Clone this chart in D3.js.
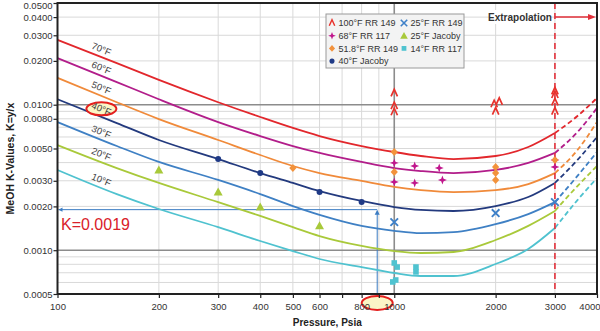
<!DOCTYPE html>
<html><head><meta charset="utf-8">
<script src="https://cdn.jsdelivr.net/npm/d3@7"></script>
<style>
body{margin:0;background:#fff}
svg{display:block}
text{font-family:"Liberation Sans Narrow","Liberation Sans",Arial,sans-serif}
</style>
</head><body><svg id="c" width="600" height="331"></svg>
<script>
// ---------- data ----------
const pressures = [100,150,200,300,400,500,600,800,1000,1200,1500,2000,2500,3000,3500,4000];
const curveLabels = ["70°F","60°F","50°F","40°F","30°F","20°F","10°F"];
const curveColors = ["#e2272c","#b21d8a","#f08a3a","#233a7e","#3f80c4","#a9c93a","#4fc2cf"];
const k70 = [0.0279,0.0193,0.0148,0.0104,0.00823,0.00692,0.00609,0.00520,0.00473,0.00444,0.00423,0.00444,0.00512,0.00639,0.00836,0.01112];
const k60 = [0.0209,0.0143,0.0109,0.0076,0.00609,0.0052,0.00466,0.00404,0.00367,0.0035,0.00339,0.00356,0.00398,0.00466,0.00649,0.00949];
const k50 = [0.0153,0.0104,0.00797,0.00572,0.00451,0.00379,0.00339,0.00299,0.00272,0.00259,0.00251,0.00259,0.00285,0.00339,0.00488,0.0076];
const k40 = [0.0109,0.00748,0.00572,0.00423,0.00339,0.0029,0.00255,0.00218,0.00198,0.00189,0.00186,0.00201,0.00232,0.0029,0.00417,0.006];
const k30 = [0.0076,0.0052,0.00404,0.00304,0.00243,0.00201,0.00175,0.00147,0.00136,0.00131,0.00133,0.00151,0.00177,0.00214,0.00324,0.00473];
const k20 = [0.00528,0.00367,0.0029,0.00214,0.00172,0.00144,0.00125,0.00107,0.000987,0.000957,0.000972,0.001175,0.00147,0.00186,0.00276,0.00379];
const k10 = [0.00356,0.00243,0.00192,0.00144,0.001157,0.000987,0.00087,0.000766,0.000697,0.000665,0.000665,0.000804,0.00102,0.00142,0.00221,0.00313];
const extrapolateFrom = 3000;

const pts100F_RR149 = [[1000,0.0120],[1000,0.0098],[1000,0.0089],[1980,0.0101],[2050,0.0105],[2000,0.0090],[3000,0.0124],[3000,0.0117],[3000,0.0104],[3000,0.0090]];
const pts68F_RR117 = [[1000,0.00398],[1000,0.00294],[1150,0.00379],[1150,0.0029],[1360,0.00367],[1390,0.00304],[3000,0.00373],[3000,0.00417]];
const pts518F_RR149 = [[500,0.00367],[1000,0.00473],[1000,0.00345],[2000,0.00373],[2000,0.00339],[2000,0.00304],[3000,0.00417]];
const pts40F_Jacoby = [[300,0.00423],[400,0.00339],[600,0.00251],[800,0.00214]];
const pts25F_RR149 = [[1000,0.00156],[2000,0.0018],[3000,0.00214]];
const pts25F_Jacoby = [[200,0.00356],[300,0.00251],[400,0.00198],[600,0.00147]];
const pts14F_RR117 = [[1000,0.000817],[1020,0.000766],[1010,0.000624],[990,0.000605],[1160,0.000766],[1160,0.000709]];

const legendNames = ["100°F RR 149","68°F RR 117","51.8°F RR 149","40°F Jacoby","25°F RR 149","25°F Jacoby","14°F RR 117"];

const xTicks = [100,200,300,400,500,600,700,800,900,1000,2000,3000,4000];
const xTickLabels = [100,200,300,400,500,600,800,1000,2000,3000,4000];
const xGridMinor = [200,300,400,500,600,700,800,900,2000,3000];
const xGridMajor = [1000];
const yTicks = [0.0005,0.001,0.002,0.003,0.005,0.008,0.01,0.02,0.03,0.04,0.05];
const yGridMinor = [0.0006,0.0007,0.0008,0.0009,0.002,0.003,0.004,0.005,0.006,0.007,0.008,0.009,0.02,0.03,0.04];
const yGridMajor = [0.001,0.01];

const annotK = 0.0019;
const annotP = 890;
const annotText = "K=0.0019";

// ---------- setup ----------
const svg = d3.select("#c");
const L = 57.5, R = 597, T = 3, B = 294;
const x = d3.scaleLog().domain([100,4000]).range([L,R]);
const y = d3.scaleLog().domain([0.0005,0.05]).range([B,T]);
const REG = "'Liberation Sans',Arial,sans-serif";

// grid
const g = svg.append("g");
g.selectAll(".vgm").data(xGridMinor).join("line")
  .attr("x1",d=>x(d)).attr("x2",d=>x(d)).attr("y1",T).attr("y2",B)
  .attr("stroke","#d9d9d9").attr("stroke-width",1);
g.selectAll(".hgm").data(yGridMinor).join("line")
  .attr("x1",L).attr("x2",R).attr("y1",d=>y(d)).attr("y2",d=>y(d))
  .attr("stroke","#d9d9d9").attr("stroke-width",1);
g.selectAll(".vgM").data(xGridMajor).join("line")
  .attr("x1",d=>x(d)).attr("x2",d=>x(d)).attr("y1",T).attr("y2",B)
  .attr("stroke","#8c8c8c").attr("stroke-width",1.6);
g.selectAll(".hgM").data(yGridMajor).join("line")
  .attr("x1",L).attr("x2",R).attr("y1",d=>y(d)).attr("y2",d=>y(d))
  .attr("stroke","#8c8c8c").attr("stroke-width",1.6);

// annotation lines (blue)
const blue = "#3b7cc3";
svg.append("line").attr("x1",L+1).attr("x2",x(annotP)).attr("y1",y(annotK)).attr("y2",y(annotK))
  .attr("stroke",blue).attr("stroke-width",1);
svg.append("line").attr("x1",x(annotP)).attr("x2",x(annotP)).attr("y1",B).attr("y2",y(annotK)+3)
  .attr("stroke",blue).attr("stroke-width",1);
svg.append("path").attr("d",`M${x(annotP)},${y(annotK)} l-2.5,5 l5,0 z`).attr("fill",blue);
svg.append("path").attr("d",`M${L+1},${y(annotK)} l4,-2.2 l0,4.4 z`).attr("fill",blue);

// curves
const allK = [k70,k60,k50,k40,k30,k20,k10];
const line = d3.line().x(d=>x(d[0])).y(d=>y(d[1])).curve(d3.curveMonotoneX);
allK.forEach((ks,i)=>{
  const data = pressures.map((p,j)=>[p,ks[j]]);
  svg.append("path").datum(data.filter(d=>d[0]<=extrapolateFrom)).attr("d",line)
    .attr("fill","none").attr("stroke",curveColors[i]).attr("stroke-width",1.8);
  svg.append("path").datum(data.filter(d=>d[0]>=extrapolateFrom)).attr("d",line)
    .attr("fill","none").attr("stroke",curveColors[i]).attr("stroke-width",1.8)
    .attr("stroke-dasharray","5,3");
});

// curve labels
const labP = 135;
allK.forEach((ks,i)=>{
  const ly = y(ks[0]) + (y(ks[1])-y(ks[0]))*(x(labP)-x(pressures[0]))/(x(pressures[1])-x(pressures[0])) - 8;
  const gl = svg.append("g").attr("transform",`translate(${x(labP)},${ly}) rotate(23)`);
  if (curveLabels[i]==="40°F") {
    gl.append("ellipse").attr("cx",0).attr("cy",0).attr("rx",15).attr("ry",6.5)
      .attr("transform","rotate(-23)")
      .attr("fill","#fbf6c6").attr("stroke","#e3201e").attr("stroke-width",2);
  }
  gl.append("text").attr("text-anchor","middle").attr("dy","0.35em")
    .attr("font-size",9.5).attr("fill","#444").text(curveLabels[i]);
});

// extrapolation line
const red = "#e2303a";
svg.append("line").attr("x1",x(extrapolateFrom)).attr("x2",x(extrapolateFrom)).attr("y1",T).attr("y2",B)
  .attr("stroke",red).attr("stroke-width",1.6).attr("stroke-dasharray","6,4");
svg.append("rect").attr("x",490).attr("y",10).attr("width",60).attr("height",14).attr("fill","#fff");
svg.append("text").attr("x",520).attr("y",20.5).attr("text-anchor","middle").attr("font-size",10)
  .attr("font-weight","bold").attr("fill","#333").text("Extrapolation");
svg.append("line").attr("x1",x(extrapolateFrom)).attr("x2",R-6).attr("y1",17).attr("y2",17)
  .attr("stroke",red).attr("stroke-width",1.4);
svg.append("path").attr("d",`M${R-1},17 l-8,-3 l0,6 z`).attr("fill",red);

// markers
function sym(sel, type, color){
  if(type==="caret") sel.append("path").attr("d","M-3.2,3.2 L0,-3.8 L3.2,3.2").attr("fill","none").attr("stroke",color).attr("stroke-width",1.7);
  else if(type==="star") sel.append("path").attr("d","M0,-4.5 L1.2,-1.2 L4.5,0 L1.2,1.2 L0,4.5 L-1.2,1.2 L-4.5,0 L-1.2,-1.2 Z").attr("fill",color);
  else if(type==="diamond") sel.append("path").attr("d","M0,-4 L3.6,0 L0,4 L-3.6,0 Z").attr("fill",color);
  else if(type==="circle") sel.append("circle").attr("r",3).attr("fill",color);
  else if(type==="x") sel.append("path").attr("d","M-3.8,-3.8 L3.8,3.8 M-3.8,3.8 L3.8,-3.8").attr("stroke",color).attr("stroke-width",1.9);
  else if(type==="tri") sel.append("path").attr("d","M0,-4.5 L4.5,3.5 L-4.5,3.5 Z").attr("fill",color);
  else if(type==="square") sel.append("rect").attr("x",-2.8).attr("y",-2.8).attr("width",5.6).attr("height",5.6).attr("fill",color);
}
const series = [
  {pts:pts100F_RR149, type:"caret", color:"#e8322c"},
  {pts:pts68F_RR117, type:"star", color:"#c0168c"},
  {pts:pts518F_RR149, type:"diamond", color:"#f2923c"},
  {pts:pts40F_Jacoby, type:"circle", color:"#1f3a86"},
  {pts:pts25F_RR149, type:"x", color:"#3e80c8"},
  {pts:pts25F_Jacoby, type:"tri", color:"#a8c93a"},
  {pts:pts14F_RR117, type:"square", color:"#4fc3d0"}
];
series.forEach(s=>{
  s.pts.forEach(p=>{
    const gg = svg.append("g").attr("transform",`translate(${x(p[0])},${y(p[1])})`);
    sym(gg, s.type, s.color);
  });
});

// legend
const lg = svg.append("g");
lg.append("rect").attr("x",326).attr("y",14).attr("width",138).attr("height",54)
  .attr("fill","#f3f3f3").attr("stroke","#9a9a9a").attr("stroke-width",1);
series.forEach((s,i)=>{
  const col = i<4?0:1, row = i<4?i:i-4;
  const lx = col===0?332:404, ly = 23+row*12.7;
  const gg = lg.append("g").attr("transform",`translate(${lx},${ly}) scale(0.85)`);
  sym(gg, s.type, s.color);
  lg.append("text").attr("x",lx+6.5).attr("y",ly).attr("dy","0.35em").attr("font-size",9)
    .attr("fill","#333").text(legendNames[i]);
});

// bottom highlight ellipse (under tick labels)
svg.append("ellipse").attr("cx",x(annotP)).attr("cy",303).attr("rx",15.5).attr("ry",7)
  .attr("fill","#fbf6c6").attr("stroke","#e3201e").attr("stroke-width",2);

// axes
const yAxis = svg.append("g").attr("transform",`translate(${L},0)`)
  .call(d3.axisLeft(y).tickValues(yTicks).tickFormat(d3.format(".4f")).tickSize(4).tickSizeOuter(0));
yAxis.select(".domain").remove();
yAxis.selectAll("text").attr("font-size",9.5).attr("fill","#333").attr("x",-5).style("font-family",REG);
yAxis.selectAll(".tick").filter(d=>d===0.05).select("text").attr("dy","0.62em");
yAxis.selectAll("line").attr("stroke","#222").attr("stroke-width",1.2);

const xAxis = svg.append("g").attr("transform",`translate(0,${B})`)
  .call(d3.axisBottom(x).tickValues(xTicks).tickFormat(d=>xTickLabels.includes(d)?d:"").tickSize(4).tickSizeOuter(0));
xAxis.select(".domain").remove();
xAxis.selectAll("text").attr("font-size",9.5).attr("fill","#333").attr("y",9).style("font-family",REG);
xAxis.selectAll(".tick").filter(d=>d===4000).select("text").attr("text-anchor","end").attr("dx",3);
xAxis.selectAll("line").attr("stroke","#222").attr("stroke-width",1.2);

// frame
svg.append("rect").attr("x",L).attr("y",T).attr("width",R-L).attr("height",B-T)
  .attr("fill","none").attr("stroke","#222").attr("stroke-width",2);

// titles
svg.append("text").attr("transform",`translate(14,${(T+B)/2+10}) rotate(-90)`).attr("text-anchor","middle")
  .attr("font-size",10.5).attr("font-weight","bold").attr("fill","#222").text("MeOH K-Values, K=y/x");
svg.append("text").attr("x",(L+R)/2).attr("y",326).attr("text-anchor","middle")
  .attr("font-size",10).attr("font-weight","bold").attr("fill","#222").style("font-family",REG).text("Pressure, Psia");

// annotation text
svg.append("text").attr("x",61).attr("y",230).attr("font-size",16).attr("fill","#d9202a")
  .style("font-family",REG).text(annotText);
</script>
</body></html>
